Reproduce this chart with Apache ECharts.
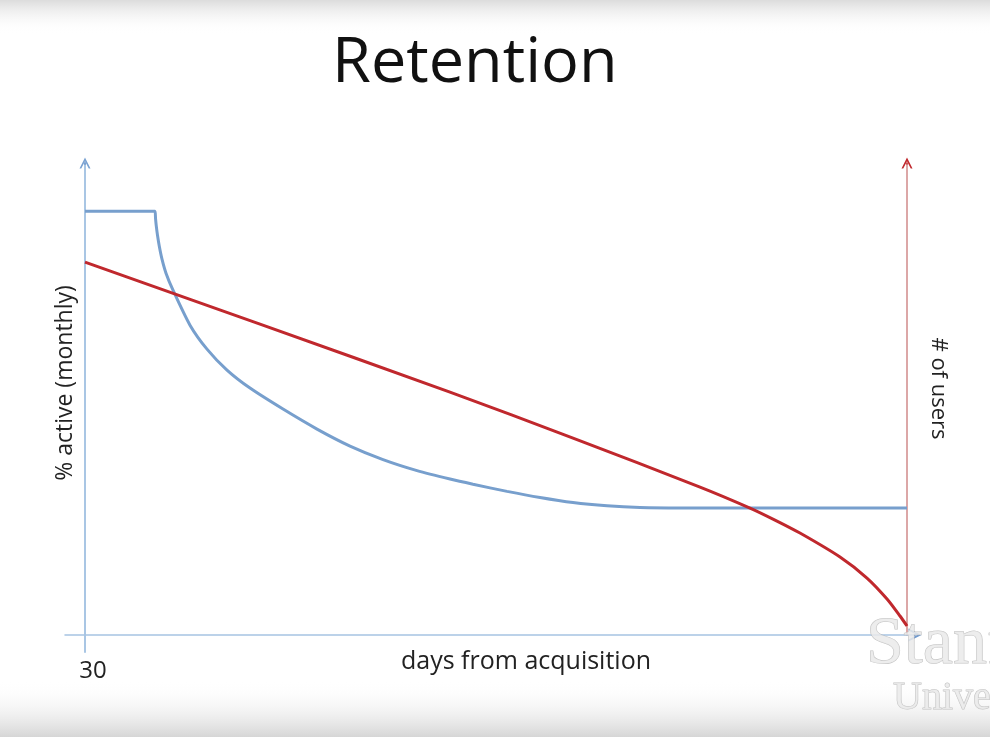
<!DOCTYPE html>
<html>
<head>
<meta charset="utf-8">
<script src="https://cdn.jsdelivr.net/npm/echarts@6/dist/echarts.min.js"></script>
<style>html,body{margin:0;padding:0;background:#fff;}#c{width:990px;height:737px;}</style>
</head>
<body>
<div id="c"></div>
<script>
// Data (arbitrary units: x 0..100 across the plot, y 0..~99 up the plot)
const blueX = [0, 8.516, 8.577, 8.674, 8.820, 9.039, 9.367, 9.854, 10.706, 12.774, 14.842, 17.275, 20.073, 24.088, 28.224, 32.238, 36.253, 40.389, 44.404, 47.202, 51.338, 55.353, 59.367, 63.504, 67.518, 72.384, 100];
const blueY = [89.26, 89.26, 87.79, 86.11, 84.21, 81.89, 79.16, 76.21, 72.63, 65.26, 60.21, 55.79, 52.0, 47.58, 43.37, 39.79, 36.95, 34.63, 32.84, 31.75, 30.25, 28.95, 27.89, 27.2, 26.84, 26.74, 26.74];
const redX = [0, 21.29, 44.40, 59.37, 74.82, 80.90, 83.94, 86.98, 91.85, 95.13, 97.57, 99.15, 100];
const redY = [78.53, 65.47, 51.16, 41.47, 31.16, 26.74, 24.21, 21.47, 16.42, 12.0, 7.58, 4.0, 1.89];
const titleText = 'Retention';
const xName = 'days from acquisition';
const yLeftName = '% active (monthly)';
const yRightName = '# of users';
const xStartLabel = '30';

const zip = (xs, ys) => xs.map((x, i) => [x, ys[i]]);
const chevron = 'path://M0,10 L5,0 L10,10 L8.4,10 L5,3.4 L1.6,10 Z';
const FONT = '"Open Sans"';
const bare = { axisTick: { show: false }, axisLabel: { show: false }, splitLine: { show: false } };

const chart = echarts.init(document.getElementById('c'), null, { renderer: 'canvas' });
chart.setOption({
  animation: false,
  backgroundColor: '#ffffff',
  title: {
    text: titleText, left: 327, top: 28,
    textStyle: { fontFamily: FONT, fontSize: 63, fontWeight: 'normal', color: '#111' }
  },
  grid: [
    { left: 85, right: 83, top: 164, bottom: 102 },          // data grid
    { left: 65, right: 75, top: 164, bottom: 85 },           // crossing axes
    { left: 85, width: 1, top: 163, height: 1 },             // left arrow
    { left: 907, width: 1, top: 163, height: 1 },            // right arrow
    { left: 914, width: 1, top: 634, height: 1 }             // x arrow
  ],
  xAxis: [
    Object.assign({ gridIndex: 0, type: 'value', min: 0, max: 100, interval: 100,
      axisLine: { show: false },
      name: xName, nameLocation: 'middle', nameGap: 14, nameMoveOverlap: false,
      nameTextStyle: { fontSize: 25, fontFamily: FONT, color: '#222', padding: [0, 0, 0, 60] } }, bare,
      { axisLabel: { show: true, formatter: v => v === 0 ? xStartLabel : '', margin: 24, fontSize: 24, fontFamily: FONT, color: '#222', padding: [0, 0, 0, 16] } }),
    Object.assign({ gridIndex: 1, type: 'value', min: -20, max: 830,
      axisLine: { show: true, onZero: true, lineStyle: { color: '#A6C3E2', width: 1.5 } } }, bare),
    { gridIndex: 2, type: 'value', min: 0, max: 1, show: false },
    { gridIndex: 3, type: 'value', min: 0, max: 1, show: false },
    Object.assign({ gridIndex: 4, type: 'value', min: 0, max: 1,
      axisLine: { show: true, onZero: false, symbol: ['none', chevron], symbolSize: [13, 15], lineStyle: { color: '#6F9AD0', width: 1.5 } } }, bare)
  ],
  yAxis: [
    Object.assign({ gridIndex: 0, type: 'value', min: 0, max: 99.2,
      axisLine: { show: false },
      name: yLeftName, nameLocation: 'middle', nameGap: 8, nameMoveOverlap: false,
      nameTextStyle: { fontSize: 23, fontFamily: FONT, color: '#222', padding: [0, 0, 0, 33] } }, bare),
    Object.assign({ gridIndex: 0, type: 'value', min: 0, max: 99.2, position: 'right',
      axisLine: { show: true, onZero: false, lineStyle: { color: '#D08A8A', width: 1.5 } },
      name: yRightName, nameLocation: 'middle', nameRotate: -90, nameGap: 20, nameMoveOverlap: false,
      nameTextStyle: { fontSize: 22, fontFamily: FONT, color: '#222', padding: [0, 22, 0, 0] } }, bare),
    Object.assign({ gridIndex: 1, type: 'value', min: -17, max: 471,
      axisLine: { show: true, onZero: true, lineStyle: { color: '#A9C6E4', width: 2 } } }, bare),
    Object.assign({ gridIndex: 2, type: 'value', min: 0, max: 1,
      axisLine: { show: true, onZero: false, symbol: ['none', chevron], symbolSize: [14, 11], lineStyle: { color: '#7AA2D2', width: 2 } } }, bare),
    Object.assign({ gridIndex: 3, type: 'value', min: 0, max: 1,
      axisLine: { show: true, onZero: false, symbol: ['none', chevron], symbolSize: [15, 11], lineStyle: { color: '#C0282D', width: 1.5 } } }, bare),
    { gridIndex: 4, type: 'value', min: 0, max: 1, show: false }
  ],
  series: [
    { type: 'line', xAxisIndex: 0, yAxisIndex: 0, data: zip(blueX, blueY), showSymbol: false,
      smooth: 0.2, lineStyle: { color: '#779FCD', width: 3 }, z: 3 },
    { type: 'line', xAxisIndex: 0, yAxisIndex: 0, data: zip(redX, redY), showSymbol: false,
      smooth: 0.25, lineStyle: { color: '#C0282D', width: 3 }, z: 4 }
  ],
  graphic: [
    { type: 'rect', z: -10, silent: true, shape: { x: 0, y: 0, width: 990, height: 34 },
      style: { fill: new echarts.graphic.LinearGradient(0, 0, 0, 1, [{ offset: 0, color: '#dcdcdc' }, { offset: 1, color: 'rgba(255,255,255,0)' }]) } },
    { type: 'rect', z: -10, silent: true, shape: { x: 0, y: 680, width: 990, height: 57 },
      style: { fill: new echarts.graphic.LinearGradient(0, 0, 0, 1, [{ offset: 0, color: 'rgba(255,255,255,0)' }, { offset: 1, color: '#d6d6d6' }]) } },
    { type: 'text', z: 100, silent: true, x: 866, y: 611,
      style: { text: 'Stanford', font: '68px "Liberation Serif"', fill: 'rgba(234,234,234,0.85)', stroke: 'rgba(180,180,180,0.8)', lineWidth: 1, verticalAlign: 'top' } },
    { type: 'text', z: 100, silent: true, x: 893, y: 678,
      style: { text: 'University', font: '40px "Liberation Serif"', fill: 'rgba(234,234,234,0.85)', stroke: 'rgba(180,180,180,0.8)', lineWidth: 1, verticalAlign: 'top' } }
  ]
});
</script>
</body>
</html>
